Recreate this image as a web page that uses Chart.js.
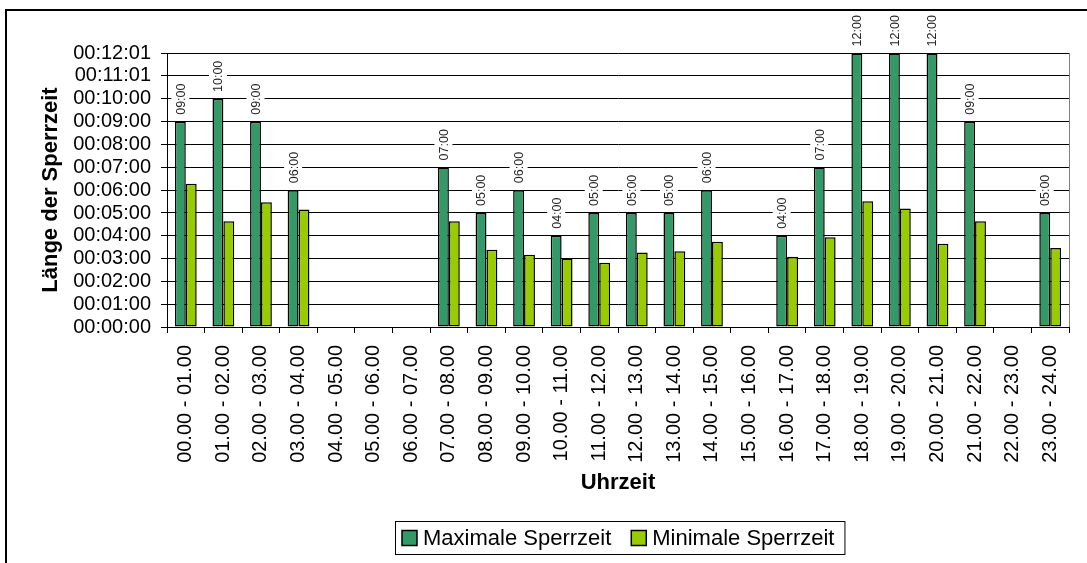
<!DOCTYPE html>
<html>
<head>
<meta charset="utf-8">
<title>Sperrzeit</title>
<script src="https://cdn.jsdelivr.net/npm/chart.js@4.4.1/dist/chart.umd.min.js"></script>
<style>
  html, body { margin: 0; padding: 0; background: #fff; }
  canvas { display: block; }
</style>
</head>
<body>
<canvas id="sperrChart" width="1087" height="563"></canvas>
<script>
// Stunden des Tages
const categories = [
  '00.00 - 01.00', '01.00 - 02.00', '02.00 - 03.00', '03.00 - 04.00',
  '04.00 - 05.00', '05.00 - 06.00', '06.00 - 07.00', '07.00 - 08.00',
  '08.00 - 09.00', '09.00 - 10.00', '10.00 - 11.00', '11.00 - 12.00',
  '12.00 - 13.00', '13.00 - 14.00', '14.00 - 15.00', '15.00 - 16.00',
  '16.00 - 17.00', '17.00 - 18.00', '18.00 - 19.00', '19.00 - 20.00',
  '20.00 - 21.00', '21.00 - 22.00', '22.00 - 23.00', '23.00 - 24.00'
];

// Sperrzeiten in Sekunden (null = keine Sperrung)
const maxSperrzeit = [540, 600, 540, 360, null, null, null, 420, 300, 360, 240, 300,
                      300, 300, 360, null, 240, 420, 720, 720, 720, 540, null, 300];
const minSperrzeit = [377, 278, 328, 309, null, null, null, 278, 203, 190, 180, 169,
                      196, 199, 224, null, 185, 236, 331, 312, 219, 278, null, 208];

// y-Achse
const yTickValues = [0, 60, 120, 180, 240, 300, 360, 420, 480, 540, 600, 661, 721];
const yTickLabels = ['00:00:00', '00:01:00', '00:02:00', '00:03:00', '00:04:00',
                     '00:05:00', '00:06:00', '00:07:00', '00:08:00', '00:09:00',
                     '00:10:00', '00:11:01', '00:12:01'];

const FONT = '"Liberation Sans", Arial, sans-serif';

function mmss(sec) {
  const m = Math.floor(sec / 60), s = Math.round(sec % 60);
  return String(m).padStart(2, '0') + ':' + String(s).padStart(2, '0');
}

// outer frame, right border of plot area, boxed legend
const framePlugin = {
  id: 'frame',
  beforeDraw(chart) {
    const c = chart.ctx;
    c.save();
    c.fillStyle = '#fff';
    c.fillRect(0, 0, chart.width, chart.height);
    c.strokeStyle = '#000';
    c.lineWidth = 2;
    c.strokeRect(6, 10, 1200, 1000);
    c.restore();
  },
  afterDraw(chart) {
    const c = chart.ctx, a = chart.chartArea;
    c.save();
    c.strokeStyle = '#808080';
    c.lineWidth = 1;
    c.beginPath();
    c.moveTo(a.right + 0.5, a.top);
    c.lineTo(a.right + 0.5, a.bottom);
    c.stroke();

    // legend
    const sets = chart.data.datasets;
    const box = 15, gap = 6, itemGap = 20, cy = 538;
    c.font = '22px ' + FONT;
    const widths = sets.map(d => box + gap + c.measureText(d.label).width);
    const total = widths.reduce((s, w) => s + w, 0) + itemGap * (sets.length - 1);
    let x = Math.round((a.left + a.right) / 2 - total / 2);
    c.fillStyle = '#fff';
    c.fillRect(x - 7, 521, total + 17, 33);
    c.strokeStyle = '#000';
    c.lineWidth = 1;
    c.strokeRect(x - 7 + 0.5, 521 + 0.5, total + 17, 33);
    c.textBaseline = 'middle';
    c.textAlign = 'left';
    sets.forEach((d, i) => {
      c.fillStyle = d.backgroundColor;
      c.fillRect(x, cy - box / 2, box, box);
      c.lineWidth = 1.5;
      c.strokeStyle = '#000';
      c.strokeRect(x, cy - box / 2, box, box);
      c.fillStyle = '#000';
      c.fillText(d.label, x + box + gap, cy + 1);
      x += widths[i] + itemGap;
    });
    c.restore();
  }
};

// value labels above the max bars
const labelPlugin = {
  id: 'maxLabels',
  afterDatasetsDraw(chart) {
    const c = chart.ctx;
    const meta = chart.getDatasetMeta(0);
    c.save();
    c.font = '12.5px ' + FONT;
    meta.data.forEach((bar, i) => {
      const v = maxSperrzeit[i];
      if (v === null) return;
      const txt = mmss(v);
      const w = c.measureText(txt).width;
      c.save();
      c.translate(bar.x, bar.y - 7);
      c.rotate(-Math.PI / 2);
      c.fillStyle = '#fff';
      c.fillRect(-2, -9, w + 4, 18);
      c.fillStyle = '#222';
      c.textAlign = 'left';
      c.textBaseline = 'middle';
      c.fillText(txt, 0, 1);
      c.restore();
    });
    c.restore();
  }
};

new Chart(document.getElementById('sperrChart'), {
  type: 'bar',
  data: {
    labels: categories,
    datasets: [{
      label: 'Maximale Sperrzeit',
      data: maxSperrzeit,
      backgroundColor: '#339966',
      borderColor: '#000',
      borderWidth: 1.5,
      borderSkipped: false
    }, {
      label: 'Minimale Sperrzeit',
      data: minSperrzeit,
      backgroundColor: '#99cc00',
      borderColor: '#000',
      borderWidth: 1.5,
      borderSkipped: false
    }]
  },
  options: {
    responsive: false,
    animation: false,
    devicePixelRatio: 1,
    layout: { padding: { left: 0, top: 53, right: 18, bottom: 46 } },
    datasets: { bar: { categoryPercentage: 0.58, barPercentage: 1.0 } },
    plugins: {
      legend: { display: false },
      tooltip: { enabled: false }
    },
    scales: {
      x: {
        afterFit(scale) { scale.height = 190; },
        grid: { display: true, drawOnChartArea: false, color: '#000', tickLength: 6, offset: true },
        border: { color: '#000', width: 1 },
        ticks: {
          autoSkip: false, maxRotation: 90, minRotation: 90, padding: 12,
          color: '#000', font: { family: FONT, size: 20 }
        },
        title: {
          display: true, text: 'Uhrzeit', color: '#000',
          font: { family: FONT, size: 22, weight: 'bold' },
          padding: { top: 0, bottom: 21 }
        }
      },
      y: {
        min: 0,
        max: 721,
        afterFit(scale) { scale.width = 167; },
        afterBuildTicks(scale) { scale.ticks = yTickValues.map(v => ({ value: v })); },
        grid: { color: '#000', tickLength: 6 },
        border: { color: '#000', width: 1 },
        ticks: {
          autoSkip: false, padding: 10, color: '#000', font: { family: FONT, size: 20 },
          callback(value) {
            const i = yTickValues.indexOf(value);
            return i >= 0 ? yTickLabels[i] : '';
          }
        },
        title: {
          display: true, text: 'Länge der Sperrzeit', color: '#000',
          font: { family: FONT, size: 22, weight: 'bold' },
          padding: { top: 38, bottom: 0 }
        }
      }
    }
  },
  plugins: [framePlugin, labelPlugin]
});
</script>
</body>
</html>
